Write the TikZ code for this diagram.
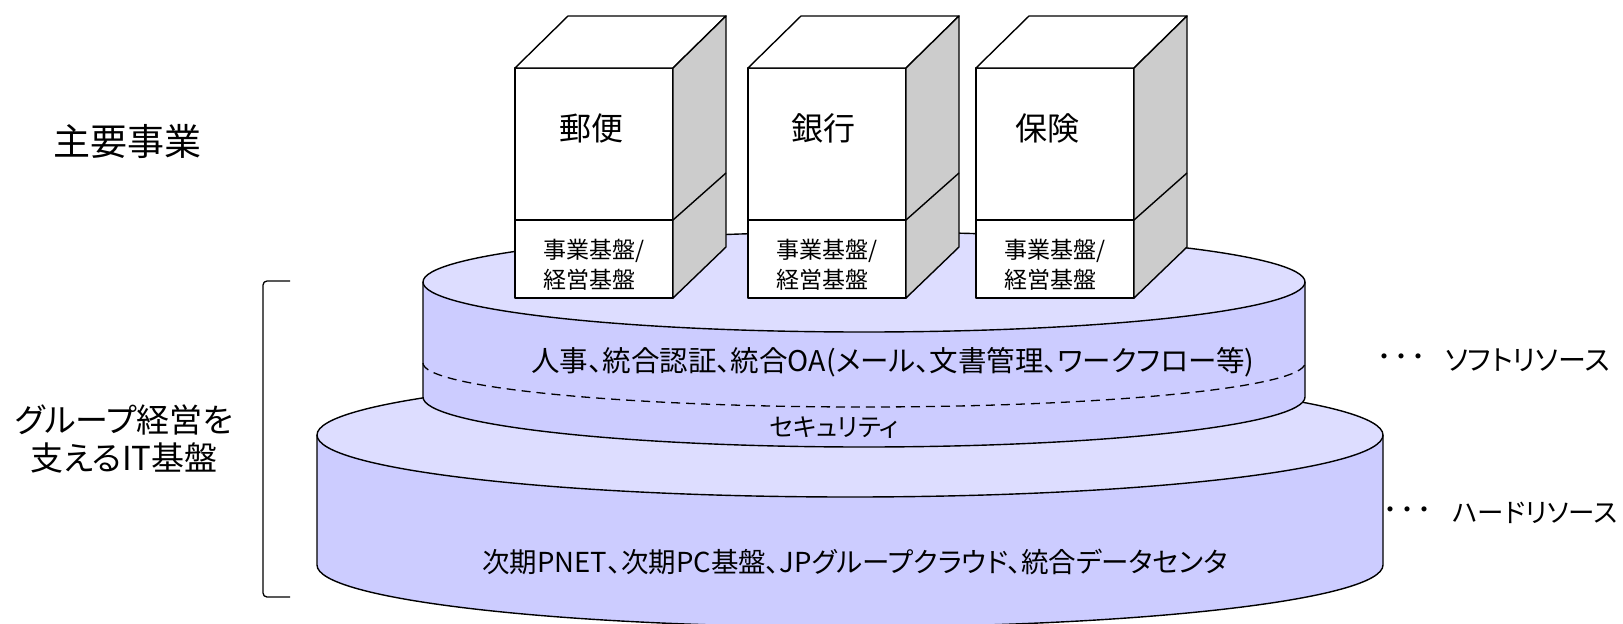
\documentclass[tikz,border=0pt]{standalone}
\usepackage{fontspec}
\setmainfont{Noto Sans CJK JP}[RawFeature=+palt]
\newfontfamily\jpfull{Noto Sans CJK JP}
\newcommand\pxf[2]{\fontsize{#1}{#2}\selectfont}
\definecolor{sidec}{HTML}{CCCCFF}
\definecolor{topc}{HTML}{DDDDFF}
\definecolor{boxside}{HTML}{CCCCCC}
\newcommand\drawbizbox[1]{%
  \begin{scope}[shift={(#1,0)}]
    \draw[fill=white] (0,-68) rectangle (158,-298);
    \draw (0,-220) -- (158,-220);
    \draw[fill=white] (0,-68) -- (53,-16) -- (211,-16) -- (158,-68) -- cycle;
    \draw[fill=boxside] (158,-68) -- (211,-16) -- (211,-247) -- (158,-298) -- cycle;
    \draw (158,-220) -- (211,-173);
  \end{scope}}
\begin{document}
\begin{tikzpicture}[x=1pt,y=1pt,line width=1.4pt,line join=round,
  txt/.style={inner sep=0pt,text=black}]
\clip (0,0) rectangle (1623,-624);
\fill[white] (0,0) rectangle (1623,-624);
% bottom cylinder
\fill[sidec] (317,-435) -- (317,-565) arc[start angle=180,end angle=360,x radius=533,y radius=62] -- (1383,-435) -- cycle;
\draw (317,-435) -- (317,-565) arc[start angle=180,end angle=360,x radius=533,y radius=62] -- (1383,-435);
\draw[fill=topc] (850,-435) ellipse[x radius=533,y radius=62];
% top cylinder
\fill[sidec] (423,-282) -- (423,-397) arc[start angle=180,end angle=360,x radius=441,y radius=50] -- (1305,-282) -- cycle;
\draw (423,-282) -- (423,-397) arc[start angle=180,end angle=360,x radius=441,y radius=50] -- (1305,-282);
\draw[dash pattern=on 9pt off 6pt,line width=1.3pt] (423,-363) arc[start angle=180,end angle=360,x radius=441,y radius=44];
\draw[fill=topc] (864,-282) ellipse[x radius=441,y radius=50];
% boxes
\drawbizbox{515}
\drawbizbox{748}
\drawbizbox{976}
% box texts
\node[txt,font=\pxf{32}{38}] (yubin) at (591,-128) {郵便};
\node[txt,font=\pxf{32}{38}] (ginko) at (823,-128) {銀行};
\node[txt,font=\pxf{32}{38}] (hoken) at (1047,-128) {保険};
\node[txt,font=\pxf{23}{30},align=left] (kiban1) at (594,-265) {事業基盤/\\経営基盤};
\node[txt,font=\pxf{23}{30},align=left] (kiban2) at (827,-265) {事業基盤/\\経営基盤};
\node[txt,font=\pxf{23}{30},align=left] (kiban3) at (1055,-265) {事業基盤/\\経営基盤};
% cylinder texts
\node[txt,font=\pxf{28.5}{32}] (soft) at (893,-362) {人事、統合認証、統合OA(メール、文書管理、ワークフロー等)};
\node[txt,font=\pxf{25}{30}] (sec) at (834,-428) {セキュリティ};
\node[txt,font=\pxf{27.5}{32}] (hard) at (855,-562) {次期PNET、次期PC基盤、JPグループクラウド、統合データセンタ};
% left labels
\node[txt,font=\pxf{37}{40}] (shuyo) at (127,-141) {主要事業};
\node[txt,font=\pxf{33}{38},align=center] (itkiban) at (124,-439) {グループ経営を\\支えるIT基盤};
\draw[line width=1.3pt,rounded corners=4pt] (290,-281) -- (263,-281) -- (263,-597) -- (290,-597);
% right labels
\node[txt,font=\jpfull\pxf{24}{26}] (sdots) at (1401,-360) {・\kern-7pt・\kern-7pt・};
\node[txt,font=\pxf{28}{32},anchor=east] (softres) at (1611,-360) {ソフトリソース};
\node[txt,font=\jpfull\pxf{24}{26}] (hdots) at (1407,-513) {・\kern-7pt・\kern-7pt・};
\node[txt,font=\pxf{26.5}{32},anchor=east] (hardres) at (1618,-513) {ハードリソース};
\end{tikzpicture}
\end{document}
